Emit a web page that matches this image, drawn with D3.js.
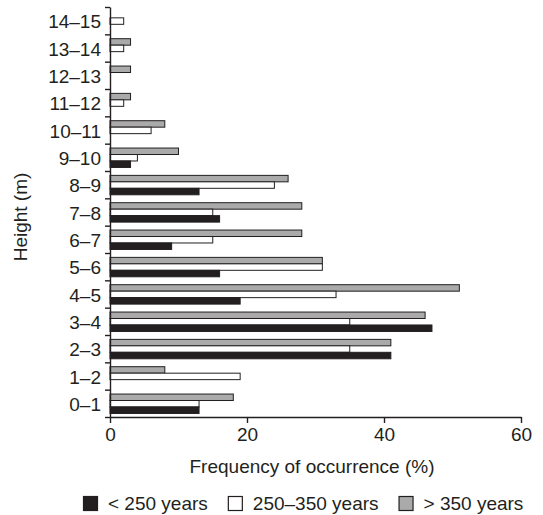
<!DOCTYPE html>
<html>
<head>
<meta charset="utf-8">
<script src="https://cdn.jsdelivr.net/npm/d3@7.9.0/dist/d3.min.js"></script>
<style>
  body { margin: 0; background: #fff; }
  svg { display: block; font-family: "Liberation Sans", Arial, sans-serif; }
  text { fill: #231f20; }
</style>
</head>
<body>
<svg id="chart" width="543" height="515"></svg>
<script>
// ---- Data ----
const heights = ['0–1', '1–2', '2–3', '3–4', '4–5', '5–6', '6–7', '7–8',
  '8–9', '9–10', '10–11', '11–12', '12–13', '13–14', '14–15'];
const seriesNames = ['> 350 years', '250–350 years', '< 250 years'];
const older = [18, 8, 41, 46, 51, 31, 28, 28, 26, 10, 8, 3, 3, 3, 0];   // > 350
const middle = [13, 19, 35, 35, 33, 31, 15, 15, 24, 4, 6, 2, 0, 2, 2];  // 250–350
const young = [13, 0, 41, 47, 19, 16, 9, 16, 13, 3, 0, 0, 0, 0, 0];     // < 250
const xTicks = [0, 20, 40, 60];
const legendOrder = ['< 250 years', '250–350 years', '> 350 years'];

// ---- Visual constants ----
const ink = '#231f20';
const colors = d3.scaleOrdinal()
  .domain(seriesNames)
  .range(['#aaaaaa', '#ffffff', ink]);

const svg = d3.select('#chart');
const plotLeft = 110, plotRight = 521, plotTop = 7, plotBottom = 417;

const x = d3.scaleLinear().domain([0, 60]).range([plotLeft, plotRight]);
const y = d3.scaleBand().domain(heights).range([plotBottom, plotTop]);
const yEdge = d3.scaleLinear().domain([0, heights.length]).range([plotBottom, plotTop]);
const step = y.bandwidth();
const inner = d3.scaleBand().domain(seriesNames).range([step * 0.16, step * 0.87]);

const rows = heights.map((h, i) => ({
  h,
  vals: [
    { s: seriesNames[0], v: older[i] },
    { s: seriesNames[1], v: middle[i] },
    { s: seriesNames[2], v: young[i] }
  ]
}));

// ---- Bars ----
const groups = svg.append('g')
  .selectAll('g')
  .data(rows)
  .join('g')
  .attr('transform', (d) => `translate(0,${y(d.h)})`);

groups.selectAll('rect')
  .data((d) => d.vals.filter((e) => e.v > 0))
  .join('rect')
  .attr('x', x(0))
  .attr('y', (d) => inner(d.s))
  .attr('width', (d) => x(d.v) - x(0))
  .attr('height', inner.bandwidth())
  .attr('fill', (d) => colors(d.s))
  .attr('stroke', ink)
  .attr('stroke-width', 1);

// ---- Axes ----
const xAxis = svg.append('g')
  .attr('transform', `translate(0,${plotBottom})`)
  .call(d3.axisBottom(x).tickValues(xTicks).tickSize(6).tickSizeOuter(0).tickPadding(5));

const yAxis = svg.append('g')
  .attr('transform', `translate(${plotLeft},0)`)
  .call(d3.axisLeft(yEdge).ticks(heights.length).tickFormat('').tickSize(5).tickSizeOuter(0));

[xAxis, yAxis].forEach((a) => {
  a.selectAll('path, line').attr('stroke', ink).attr('stroke-width', 1.4);
  a.selectAll('text').attr('fill', ink).style('font-size', '19px')
    .style('font-family', '"Liberation Sans", Arial, sans-serif');
});

// category labels
svg.append('g')
  .selectAll('text')
  .data(heights)
  .join('text')
  .attr('x', plotLeft - 9)
  .attr('y', (d) => y(d) + step / 2 + 1)
  .attr('dy', '0.35em')
  .attr('text-anchor', 'end')
  .style('font-size', '19px')
  .text((d) => d);

// axis titles
svg.append('text')
  .attr('x', 312)
  .attr('y', 473)
  .attr('text-anchor', 'middle')
  .style('font-size', '19px')
  .text('Frequency of occurrence (%)');

svg.append('text')
  .attr('transform', 'translate(27,217) rotate(-90)')
  .attr('text-anchor', 'middle')
  .style('font-size', '19px')
  .text('Height (m)');

// ---- Legend ----
const legend = svg.append('g').attr('transform', 'translate(83,497)');
let lx = 0;
legendOrder.forEach((name) => {
  legend.append('rect')
    .attr('x', lx + 0.5)
    .attr('y', -0.5)
    .attr('width', 14)
    .attr('height', 14)
    .attr('fill', colors(name))
    .attr('stroke', ink)
    .attr('stroke-width', 1.2);
  const t = legend.append('text')
    .attr('x', lx + 25)
    .attr('y', 13)
    .style('font-size', '19px')
    .text(name);
  lx += 25 + t.node().getComputedTextLength() + 20;
});
</script>
</body>
</html>
